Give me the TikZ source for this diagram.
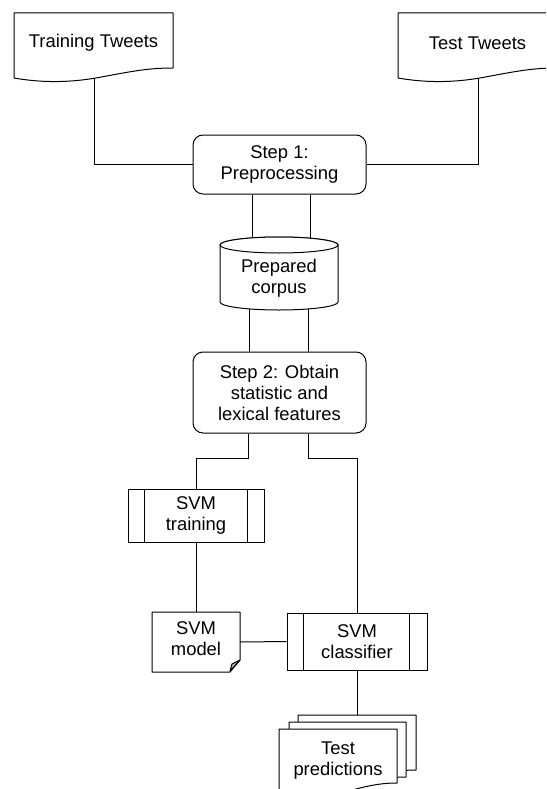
\documentclass[tikz,border=0pt]{standalone}
\usepackage{fontspec}
\setmainfont{Liberation Sans}
\newcommand\mydocshape[5][]{%
  \path[#1] (#2,#3) -- (#4,#3) -- (#4,#5)
    .. controls ({#4-0.15*(#4-#2)},#5) and ({#2+0.75*(#4-#2)},{#5+3}) .. ({#2+0.55*(#4-#2)},{#5+9})
    .. controls ({#2+0.45*(#4-#2)},{#5+12}) and ({#2+0.25*(#4-#2)},{#5+17}) .. (#2,{#5+10}) -- cycle;}
\begin{document}
\begin{tikzpicture}[x=1pt,y=-1pt,
  figline/.style={draw=black,line width=1pt,fill=white,line join=round},
  conn/.style={draw=black,line width=1pt},
  txt/.style={font=\fontsize{18.4}{21}\selectfont,align=center,inner sep=0pt},
  stepbox/.style={txt,draw,line width=1pt,fill=white,rounded corners=10pt,minimum width=173pt},
  procbox/.style={txt,draw,line width=1pt,fill=white},
  innerline/.style={line width=1pt}]
\useasboundingbox (0,0) rectangle (546,789);
\clip (0,0) rectangle (546,789);

% input documents
\mydocshape[figline]{14}{13}{173}{68}
\node[txt] (train) at (93.5,43) {Training Tweets};
\mydocshape[figline]{398}{13}{557}{68}
\node[txt] (test) at (477.5,43) {Test Tweets};
\coordinate (trainb) at (94,78);
\coordinate (testb) at (478,78);

% step 1
\node[stepbox, minimum height=59pt] (s1) at (279.5,164.5) {Step 1:\\Preprocessing};

% corpus cylinder
\path[figline] (220,245) -- (220,302) arc[start angle=180,end angle=360,x radius=59pt,y radius=8pt]
  -- (338,245) arc[start angle=0,end angle=180,x radius=59pt,y radius=8pt] -- cycle;
\draw[figline] (279,245) ellipse[x radius=59pt,y radius=8pt];
\node[txt] (corpus) at (279,278) {Prepared\\corpus};

% step 2
\node[stepbox, minimum height=81pt] (s2) at (279.5,392.5) {Step 2: Obtain\\statistic and\\lexical features};

% SVM training
\node[procbox, minimum width=136pt, minimum height=53pt] (tr) at (196,515.5) {SVM\\training};
\draw[innerline] ([xshift=17pt]tr.north west) -- ([xshift=17pt]tr.south west)
             ([xshift=-17pt]tr.north east) -- ([xshift=-17pt]tr.south east);

% SVM classifier
\node[procbox, minimum width=140pt, minimum height=57pt] (cl) at (357,641.5) {SVM\\classifier};
\draw[innerline] ([xshift=17pt]cl.north west) -- ([xshift=17pt]cl.south west)
             ([xshift=-18pt]cl.north east) -- ([xshift=-18pt]cl.south east);

% SVM model (folded corner)
\path[figline] (152,612) -- (240,612) -- (240,660) -- (230,672) -- (152,672) -- cycle;
\path[figline, fill=gray!55] (240,660) -- (230,671) -- (232,664) -- cycle;
\node[inner sep=0pt, minimum width=88pt, minimum height=60pt] (mdl) at (196,642) {};
\node[txt] (mdltxt) at (196,638.5) {SVM\\model};

% multiple documents
\mydocshape[figline]{298}{715}{416}{770}
\mydocshape[figline]{289}{722}{406}{777}
\mydocshape[figline]{279}{729}{397}{783}
\node[txt] (pred) at (338,761) {Test\\predictions};
\coordinate (predtop) at (357,715);

% connectors
\draw[conn] (trainb) |- (s1.west);
\draw[conn] (testb) |- (s1.east);
\coordinate (a1) at (252,238);
\coordinate (a2) at (310,238);
\draw[conn] (a1 |- s1.south) -- (a1);
\draw[conn] (a2 |- s1.south) -- (a2);
\coordinate (b1) at (249,309);
\coordinate (b2) at (308,309);
\draw[conn] (b1) -- (b1 |- s2.north);
\draw[conn] (b2) -- (b2 |- s2.north);
\coordinate (j1) at (248,458);
\coordinate (j2) at (308,458);
\draw[conn] (j1 |- s2.south) -- (j1) -| (tr.north);
\draw[conn] (j2 |- s2.south) -- (j2) -| (cl.north);
\draw[conn] (tr.south) -- (mdl.north);
\draw[conn] (mdl.east) -- (cl.west);
\draw[conn] (cl.south) -- (predtop);
\end{tikzpicture}
\end{document}
